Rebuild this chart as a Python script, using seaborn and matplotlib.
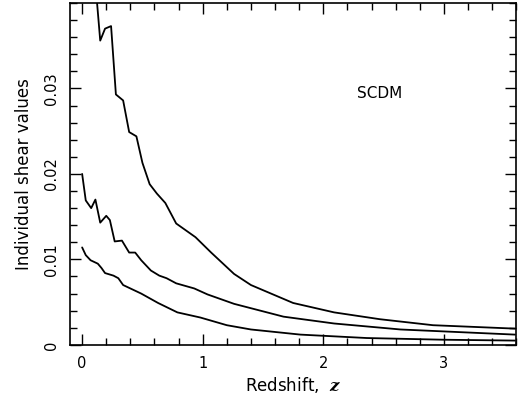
import numpy as np
import pandas as pd
import matplotlib
matplotlib.use('Agg')
import matplotlib.pyplot as plt
from matplotlib.ticker import MultipleLocator
import seaborn as sns

# redshift samples and shear values
z_top = [0.10, 0.15, 0.19, 0.24, 0.28, 0.34, 0.39, 0.45, 0.50, 0.56, 0.62, 0.69,
         0.78, 0.94, 1.07, 1.26, 1.40, 1.75, 2.09, 2.47, 2.91, 3.59]
g_top = [0.044, 0.0356, 0.0370, 0.0373, 0.0293, 0.0286, 0.0249, 0.0244, 0.0213, 0.0188,
         0.0177, 0.0166, 0.0142, 0.0126, 0.0108, 0.0083, 0.0070, 0.0049, 0.0038, 0.0030,
         0.0023, 0.0019]

z_mid = [0.0, 0.03, 0.075, 0.11, 0.15, 0.20, 0.23, 0.27, 0.33, 0.39, 0.44, 0.49, 0.57,
         0.64, 0.70, 0.78, 0.93, 1.04, 1.26, 1.67, 2.09, 2.64, 3.59]
g_mid = [0.0200, 0.0169, 0.0160, 0.0170, 0.0143, 0.0151, 0.0146, 0.0121, 0.0122, 0.0108,
         0.0108, 0.0099, 0.0087, 0.0081, 0.0078, 0.0072, 0.0066, 0.0059, 0.0048, 0.0033,
         0.0025, 0.0018, 0.0012]

z_low = [0.0, 0.03, 0.07, 0.13, 0.16, 0.19, 0.26, 0.30, 0.34, 0.49, 0.63, 0.79, 0.98,
         1.20, 1.40, 1.81, 2.36, 3.0, 3.59]
g_low = [0.0114, 0.0105, 0.0099, 0.0095, 0.0090, 0.0084, 0.0081, 0.0078, 0.0070, 0.0060,
         0.0049, 0.0038, 0.0032, 0.0023, 0.0018, 0.0012, 0.0008, 0.0006, 0.0005]

df = pd.concat([
    pd.DataFrame({'z': z_top, 'shear': g_top, 'curve': 'top'}),
    pd.DataFrame({'z': z_mid, 'shear': g_mid, 'curve': 'mid'}),
    pd.DataFrame({'z': z_low, 'shear': g_low, 'curve': 'low'}),
])

sns.set_style('ticks')
plt.rcParams['font.family'] = ['DejaVu Sans']
plt.rcParams['mathtext.fontset'] = 'dejavuserif'
plt.rcParams['text.color'] = 'black'
plt.rcParams['axes.labelcolor'] = 'black'
plt.rcParams['xtick.color'] = 'black'
plt.rcParams['ytick.color'] = 'black'
plt.rcParams['axes.edgecolor'] = 'black'

fig = plt.figure(figsize=(5.23, 4.01), dpi=100)
ax = fig.add_axes([0.134, 0.140, 0.853, 0.8525])

sns.lineplot(data=df, x='z', y='shear', units='curve', estimator=None, sort=False,
             color='black', lw=1.3, ax=ax)

ax.set_xlim(-0.1, 3.6)
ax.set_ylim(0, 0.04)
ax.xaxis.set_minor_locator(MultipleLocator(0.2))
ax.yaxis.set_minor_locator(MultipleLocator(0.002))
ax.set_yticks([0, 0.01, 0.02, 0.03])
ax.set_yticklabels(['0', '0.01', '0.02', '0.03'], rotation=90, va='center')
ax.set_xticks([0, 1, 2, 3])
ax.set_xticklabels(['0', '1', '2', '3'])
ax.tick_params(which='both', direction='in', top=True, right=True, width=1.0,
               labelsize=10.5, color='black', labelcolor='black')
ax.tick_params(which='major', length=8, pad=8)
ax.tick_params(which='minor', length=5)
for s in ax.spines.values():
    s.set_linewidth(1.2)

ax.set_xlabel(r'Redshift,  $\mathbfit{z}$', fontsize=12, labelpad=3)
ax.set_ylabel('Individual shear values', fontsize=12, labelpad=8)
ax.text(2.47, 0.0294, 'SCDM', fontsize=11, ha='center', va='center')

fig.savefig('out.png', dpi=100)
